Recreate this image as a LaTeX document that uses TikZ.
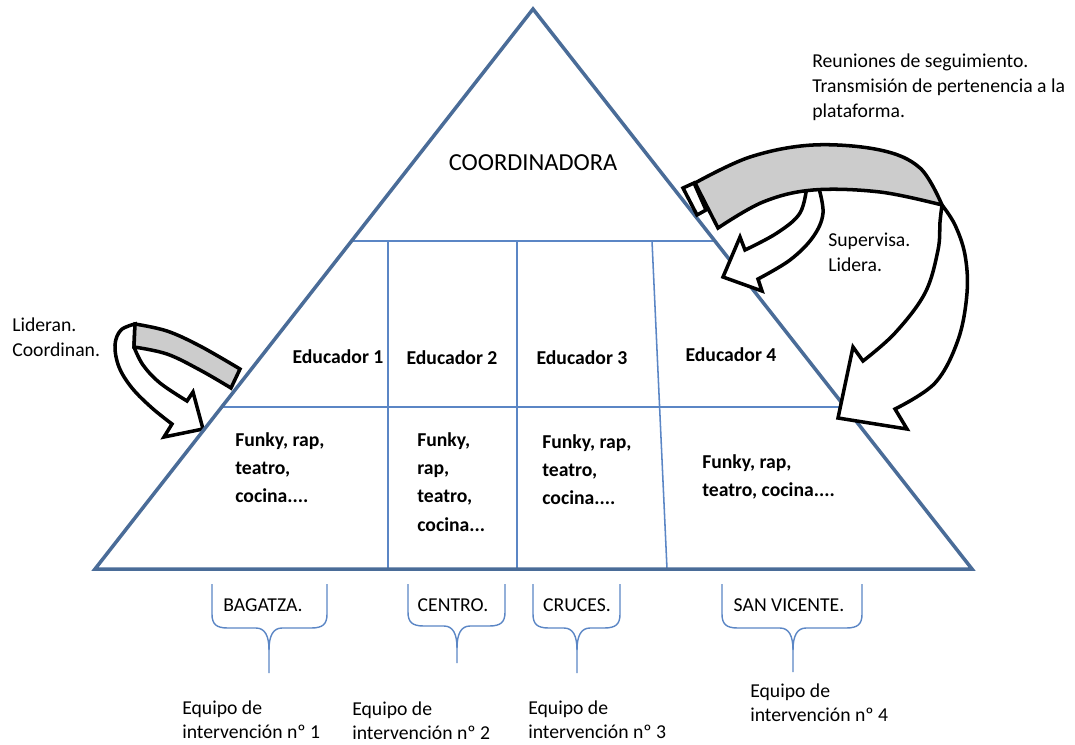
\documentclass[tikz,border=0pt]{standalone}
\usepackage{fontspec}
\setmainfont{Carlito}
\definecolor{pyramidblue}{HTML}{4A6C98}
\definecolor{gridblue}{HTML}{5B86C5}
\definecolor{foldgray}{HTML}{CCCCCC}
\begin{document}
\begin{tikzpicture}[x=0.025cm, y=-0.025cm,
		pyramid/.style={pyramidblue, line width=2.5pt},
		grid line/.style={gridblue, line width=1.1pt},
		brace line/.style={gridblue, line width=1pt},
		ribbon/.style={draw=black, line width=2.5pt, fill=white},
		ribbon back/.style={ribbon, fill=foldgray},
		titletext/.style={font=\fontsize{17.4}{20}\selectfont, inner sep=0pt},
		edulabel/.style={font=\bfseries\fontsize{14}{17}\selectfont, inner sep=0pt},
		cellfont/.style={font=\bfseries\fontsize{14}{20.2}\selectfont, align=left, anchor=north west, inner sep=0pt},
		notetext/.style={font=\fontsize{14}{17.7}\selectfont, align=left, anchor=north west, inner sep=0pt},
		teamtext/.style={font=\fontsize{14}{16.4}\selectfont, align=left, anchor=north west, inner sep=0pt},
		zonelabel/.style={font=\fontsize{14}{17}\selectfont, inner sep=0pt}]
	\useasboundingbox (0,0) rectangle (1075,744);
	% left arrow
	\draw[ribbon] plot[smooth, tension=0.6] coordinates {(135,324) (121,330) (115,345) (119,367) (132,388) (152,408) (172,424)}
		-- (164,437) -- (203,429) -- (193,392) -- (187,401)
		-- plot[smooth, tension=0.6] coordinates {(187,401) (160,383) (143,365) (134,347)} -- cycle;
	\draw[ribbon back] plot[smooth, tension=0.6] coordinates {(135,324) (167,331) (200,346) (240,369)}
		-- (231,388) -- plot[smooth, tension=0.6] coordinates {(231,388) (200,370) (167,354) (134,347)} -- cycle;
	% grid of the pyramid
	\draw[grid line] (351,241) -- (715,241);
	\draw[grid line] (222,407) -- (845,407);
	\draw[grid line] (388,241) -- (388,569);
	\draw[grid line] (517,241) -- (517,569);
	\draw[grid line] (652,241) -- (667,569);
	\coordinate (apex) at (533,9);
	\coordinate (baseL) at (95,569);
	\coordinate (baseR) at (972,569);
	\draw[pyramid] (apex) -- (baseL) -- (baseR) -- cycle;
	% right arrows
	\draw[ribbon] plot[smooth, tension=0.6] coordinates {(818,185) (823,213) (813,237) (790,260) (758,279)}
		-- (762,291) -- (723,277) -- (740,237) -- (745,250)
		-- plot[smooth, tension=0.6] coordinates {(745,250) (777,233) (800,213) (807,185)} -- cycle;
	\draw[ribbon] plot[smooth, tension=0.6] coordinates {(942,205) (955,225) (965,255) (967,293) (958,340) (935,383) (895,409)}
		-- (907,429) -- (838,418) -- (853,347) -- (863,361)
		-- plot[smooth, tension=0.6] coordinates {(863,361) (895,333) (925,293) (938,250) (940,222) (942,205)} -- cycle;
	\draw[ribbon back] plot[smooth, tension=0.6] coordinates {(695,183) (750,157) (813,145) (880,150) (920,168) (942,205)}
		-- plot[smooth, tension=0.6] coordinates {(942,205) (880,192) (813,190) (763,202) (718,228)} -- cycle;
	\draw[ribbon] (683,188) -- (694,183) -- (706,210) -- (697,215) -- cycle;
	% texts in the pyramid
	\node[titletext] (coord) at (533,163) {COORDINADORA};
	\node[edulabel] (edu1) at (338,357) {Educador 1};
	\node[edulabel] (edu2) at (452,358) {Educador 2};
	\node[edulabel] (edu3) at (582,358) {Educador 3};
	\node[edulabel] (edu4) at (731,355) {Educador 4};
	\node[cellfont] (act1) at (235,432) {Funky, rap,\\teatro,\\cocina....};
	\node[cellfont] (act2) at (417,432) {Funky,\\rap,\\teatro,\\cocina...};
	\node[cellfont] (act3) at (542,434) {Funky, rap,\\teatro,\\cocina....};
	\node[cellfont] (act4) at (702,454) {Funky, rap,\\teatro, cocina....};
	% side notes
	\node[notetext] (lead) at (12,318) {Lideran.\\Coordinan.};
	\node[notetext] (meet) at (812,54) {Reuniones de seguimiento.\\Transmisión de pertenencia a la\\plataforma.};
	\node[notetext] (superv) at (828,233) {Supervisa.\\Lidera.};
	% braces below
	\draw[brace line] (212,584) -- (212,614) .. controls (212,624) and (216,628) .. (228,628) -- (256,628) .. controls (265,628) and (269,636) .. (269,650) -- (269,673);
	\draw[brace line] (327,584) -- (327,614) .. controls (327,624) and (323,628) .. (311,628) -- (282,628) .. controls (273,628) and (269,636) .. (269,650);
	\draw[brace line] (408,584) -- (408,612) .. controls (408,622) and (412,626) .. (424,626) -- (444,626) .. controls (453,626) and (457,634) .. (457,648) -- (457,663);
	\draw[brace line] (505,584) -- (505,612) .. controls (505,622) and (501,626) .. (489,626) -- (470,626) .. controls (461,626) and (457,634) .. (457,648);
	\draw[brace line] (533,584) -- (533,614) .. controls (533,624) and (537,628) .. (549,628) -- (564,628) .. controls (573,628) and (577,636) .. (577,650) -- (577,673);
	\draw[brace line] (620,584) -- (620,614) .. controls (620,624) and (616,628) .. (604,628) -- (590,628) .. controls (581,628) and (577,636) .. (577,650);
	\draw[brace line] (722,584) -- (722,614) .. controls (722,624) and (726,628) .. (738,628) -- (780,628) .. controls (789,628) and (793,636) .. (793,650) -- (793,672);
	\draw[brace line] (862,584) -- (862,614) .. controls (862,624) and (858,628) .. (846,628) -- (806,628) .. controls (797,628) and (793,636) .. (793,650);
	\node[zonelabel] (zone1) at (263,605) {BAGATZA.};
	\node[zonelabel] (zone2) at (453,605) {CENTRO.};
	\node[zonelabel] (zone3) at (577,605) {CRUCES.};
	\node[zonelabel] (zone4) at (789,605) {SAN VICENTE.};
	% teams
	\node[teamtext] (team1) at (182,701) {Equipo de\\intervención nº 1};
	\node[teamtext] (team2) at (352,702) {Equipo de\\intervención nº 2};
	\node[teamtext] (team3) at (528,701) {Equipo de\\intervención nº 3};
	\node[teamtext] (team4) at (750,684) {Equipo de\\intervención nº 4};
\end{tikzpicture}
\end{document}
